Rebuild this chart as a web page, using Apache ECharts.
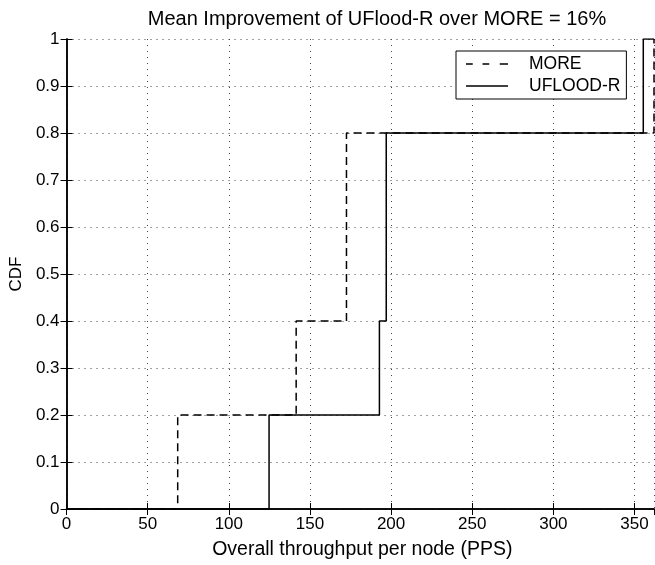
<!DOCTYPE html>
<html>
<head>
<meta charset="utf-8">
<script src="https://cdn.jsdelivr.net/npm/echarts@6/dist/echarts.min.js"></script>
<style>
  html, body { margin: 0; padding: 0; background: #fff; }
  #chart { width: 655px; height: 565px; }
</style>
</head>
<body>
<div id="chart"></div>
<script>
// CDF steps (x in PPS where the curve jumps to each level)
const cdfLevels = [0, 0.2, 0.4, 0.6, 0.8, 1.0];
const moreThroughput = [0, 68.5, 141.5, 172.5, 172.5, 362];
const ufloodThroughput = [0, 124.8, 192.8, 197, 197, 355.4];
const xTicks = [0, 50, 100, 150, 200, 250, 300, 350];
const xMax = 362;

function stepPoints(xs) {
  let pts = xs.map((x, i) => [x, cdfLevels[i]]);
  pts.push([xMax, 1]);
  return pts;
}

const font = 'Liberation Sans, Arial, Helvetica, sans-serif';
// legend samples drawn as paths (matlab style: plain line, no marker)
const dashIcon = 'path://M0,0h9v2h-9z M22,0h9v2h-9z M45,0h11v2h-11z';
const solidIcon = 'path://M0,0h56v2h-56z';

let chart = echarts.init(document.getElementById('chart'));

let option = {
  animation: false,
  title: {
    text: 'Mean Improvement of UFlood-R over MORE = 16%',
    left: 372, top: 4, textAlign: 'center',
    textStyle: { fontFamily: font, fontSize: 20, fontWeight: 'normal', color: '#000' }
  },
  legend: {
    orient: 'vertical',
    left: 456, top: 51,
    padding: [4, 6, 4, 10],
    itemWidth: 56, itemHeight: 1.5, itemGap: 4,
    borderColor: '#000', borderWidth: 1, backgroundColor: '#fff',
    textStyle: { fontFamily: font, fontSize: 17.5, color: '#000', padding: [0, 0, 0, 9] },
    data: [
      { name: 'MORE', icon: dashIcon },
      { name: 'UFLOOD-R', icon: solidIcon }
    ]
  },
  grid: { left: 66, right: 1, top: 39, bottom: 55 },
  xAxis: [
    {
      type: 'value', min: 0, max: xMax, interval: 50,
      name: 'Overall throughput per node (PPS)', nameLocation: 'middle', nameGap: 31,
      nameTextStyle: { fontFamily: font, fontSize: 19.5, color: '#000', padding: [0, 0, 0, 4] },
      axisLine: { show: true, lineStyle: { color: '#000', width: 1.5 } },
      axisTick: { inside: true, length: 6, lineStyle: { color: '#000' } },
      axisLabel: {
        fontFamily: font, fontSize: 17, color: '#000', margin: 7, showMaxLabel: false,
        formatter: v => xTicks.indexOf(v) >= 0 ? String(v) : ''
      },
      splitLine: { show: true, lineStyle: { color: '#444', type: [1, 5], width: 1 } }
    },
    {
      type: 'value', position: 'top', min: 0, max: xMax, interval: 50,
      axisLine: { show: true, lineStyle: { color: '#000', width: 1.5 } },
      axisTick: { inside: true, length: 6, lineStyle: { color: '#000' } },
      axisLabel: { show: false },
      splitLine: { show: false }
    }
  ],
  yAxis: [
    {
      type: 'value', min: 0, max: 1, interval: 0.1,
      name: 'CDF', nameLocation: 'middle', nameGap: 39,
      nameTextStyle: { fontFamily: font, fontSize: 17, color: '#000' },
      axisLine: { show: true, lineStyle: { color: '#000', width: 1.5 } },
      axisTick: { inside: true, length: 6, lineStyle: { color: '#000' } },
      axisLabel: {
        fontFamily: font, fontSize: 17, color: '#000', margin: 7,
        formatter: v => String(Math.round(v * 10) / 10)
      },
      splitLine: { show: true, lineStyle: { color: '#444', type: [1, 5], width: 1 } }
    },
    {
      type: 'value', position: 'right', min: 0, max: 1, interval: 0.1,
      axisLine: { show: true, lineStyle: { color: '#000', width: 1.5 } },
      axisTick: { inside: true, length: 6, lineStyle: { color: '#000' } },
      axisLabel: { show: false },
      splitLine: { show: false }
    }
  ],
  series: [
    {
      name: 'MORE', type: 'line', step: 'end', symbol: 'none',
      lineStyle: { color: '#000', width: 1.5, type: [8, 5] },
      itemStyle: { color: '#000' },
      data: stepPoints(moreThroughput)
    },
    {
      name: 'UFLOOD-R', type: 'line', step: 'end', symbol: 'none',
      lineStyle: { color: '#000', width: 1.5, type: 'solid' },
      itemStyle: { color: '#000' },
      data: stepPoints(ufloodThroughput)
    }
  ]
};
chart.setOption(option);
</script>
</body>
</html>
